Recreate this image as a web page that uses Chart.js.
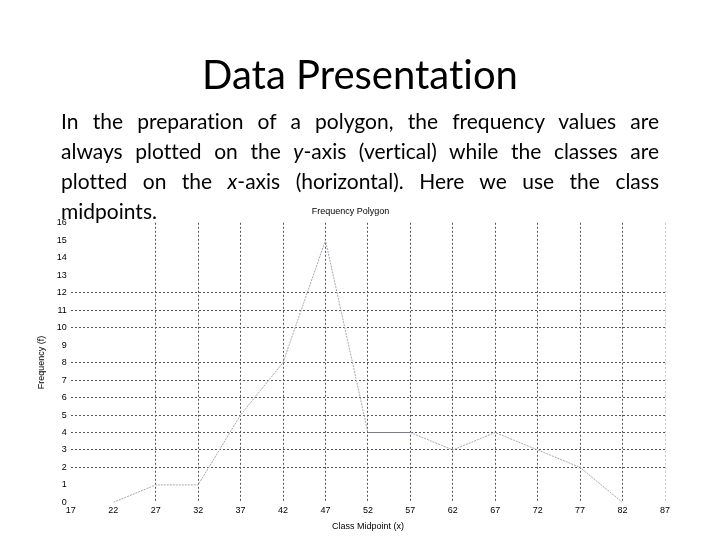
<!DOCTYPE html>
<html>
<head>
<meta charset="utf-8">
<script src="https://cdn.jsdelivr.net/npm/chart.js@4.4.0/dist/chart.umd.min.js"></script>
<style>
  body { margin: 0; background: #fff; }
  #wrap { position: relative; width: 720px; height: 540px; overflow: hidden; }
  #myChart { position: absolute; left: 0; top: 0; }
  h1 { position: absolute; left: 0; top: 50px; width: 720px; margin: 0; text-align: center;
       font-family: Lato, sans-serif; font-weight: normal; font-size: 40px; line-height: 48px; z-index: 2;
       font-variant-ligatures: none; }
  .para { position: absolute; left: 61px; top: 106px; width: 598px; z-index: 2;
          font-family: Lato, sans-serif; font-size: 21px; line-height: 30px; font-variant-ligatures: none; }
  .para div { text-align: justify; text-align-last: justify; white-space: nowrap; }
  .para div.last { text-align-last: left; }
</style>
</head>
<body>
<div id="wrap">
  <canvas id="myChart" width="720" height="540"></canvas>
  <h1>Data Presentation</h1>
  <div class="para">
    <div>In the preparation of a polygon, the frequency values are</div>
    <div>always plotted on the <i>y</i>-axis (vertical) while the classes are</div>
    <div>plotted on the <i>x</i>-axis (horizontal). Here we use the class</div>
    <div class="last">midpoints.</div>
  </div>
</div>
<script>
// class midpoints and frequencies
var midpoints = [22, 27, 32, 37, 42, 47, 52, 57, 62, 67, 72, 77, 82];
var frequency = [0, 1, 1, 5, 8, 15, 4, 4, 3, 4, 3, 2, 0];
var xTicks = [17, 22, 27, 32, 37, 42, 47, 52, 57, 62, 67, 72, 77, 82, 87];
var yTicks = [0, 1, 2, 3, 4, 5, 6, 7, 8, 9, 10, 11, 12, 13, 14, 15, 16];

var points = midpoints.map(function (m, i) { return { x: m, y: frequency[i] }; });
var tickFont = { family: 'Arial, "Liberation Sans", sans-serif', size: 9 };

const ctx = document.getElementById('myChart').getContext('2d');
var graphData = {
    type: 'line',
    data: {
        datasets: [{
            label: 'Frequency',
            data: points,
            borderColor: '#a8a8b4',
            borderWidth: 1,
            borderDash: [2, 1],
            pointRadius: 0,
            tension: 0,
            segment: {
                borderColor: function (c) { return c.p0.parsed.x === 52 ? '#7a7a96' : undefined; },
                borderDash: function (c) { return c.p0.parsed.x === 52 ? [] : undefined; }
            }
        }]
    },
    options: {
        responsive: false,
        animation: false,
        layout: { padding: { left: 36, right: 55, top: 206, bottom: 8 } },
        plugins: {
            legend: { display: false },
            tooltip: { enabled: false },
            title: {
                display: true,
                text: 'Frequency Polygon',
                color: '#000',
                font: { family: tickFont.family, size: 9, weight: 'normal' },
                padding: { top: 0, bottom: 6 }
            }
        },
        scales: {
            x: {
                type: 'linear',
                min: 17,
                max: 87,
                afterBuildTicks: function (axis) { axis.ticks = xTicks.map(function (v) { return { value: v }; }); },
                border: { display: false, dash: [2, 2] },
                grid: {
                    drawTicks: false,
                    color: function (c) {
                        var v = c.tick && c.tick.value;
                        if (v === 17 || v === 22) return 'rgba(0,0,0,0)';
                        if (v === 87) return '#c8c8c8';
                        return '#555';
                    }
                },
                ticks: { color: '#000', font: tickFont, padding: 3, maxRotation: 0, autoSkip: false },
                title: { display: true, text: 'Class Midpoint (x)', color: '#000', font: tickFont, padding: { top: 2, bottom: 0 } }
            },
            y: {
                min: 0,
                max: 16,
                afterBuildTicks: function (axis) { axis.ticks = yTicks.map(function (v) { return { value: v }; }); },
                border: { display: false, dash: [2, 2] },
                grid: {
                    drawTicks: false,
                    color: function (c) {
                        var v = c.tick && c.tick.value;
                        if (v === 0 || v === 1 || v === 9 || v >= 13) return 'rgba(0,0,0,0)';
                        return '#555';
                    }
                },
                ticks: { color: '#000', font: tickFont, padding: 4, autoSkip: false },
                title: { display: true, text: 'Frequency (f)', color: '#000', font: tickFont, padding: { top: 0, bottom: 6 } }
            }
        }
    }
};
const myChart = new Chart(ctx, graphData);
</script>
</body>
</html>
